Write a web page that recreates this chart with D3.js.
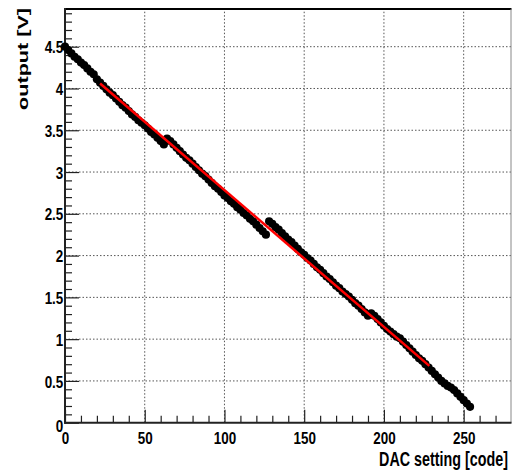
<!DOCTYPE html>
<html>
<head>
<meta charset="utf-8">
<script src="https://cdn.jsdelivr.net/npm/d3@7"></script>
<style>
  body { margin: 0; background: #fff; }
  text { font-family: "Liberation Sans", Arial, Helvetica, sans-serif; font-weight: bold; fill: #000; }
</style>
</head>
<body>
<svg id="chart" width="512" height="475"></svg>
<script>
// DAC scan, four 64-code segments, values every 2 codes
var segmentStarts = [0, 64, 128, 192];
var segment1 = [4.50, 4.46, 4.42, 4.38, 4.35, 4.31, 4.28, 4.24, 4.20, 4.17, 4.11, 4.07, 4.03, 3.99, 3.95, 3.92,
                3.88, 3.84, 3.80, 3.77, 3.73, 3.69, 3.66, 3.62, 3.59, 3.56, 3.52, 3.48, 3.45, 3.41, 3.37, 3.33];
var segment2 = [3.40, 3.37, 3.33, 3.29, 3.25, 3.21, 3.17, 3.14, 3.10, 3.06, 3.02, 2.98, 2.95, 2.91, 2.87, 2.83,
                2.80, 2.76, 2.72, 2.69, 2.65, 2.62, 2.58, 2.55, 2.51, 2.48, 2.44, 2.41, 2.37, 2.33, 2.29, 2.25];
var segment3 = [2.41, 2.38, 2.34, 2.31, 2.27, 2.23, 2.19, 2.16, 2.12, 2.08, 2.04, 2.01, 1.97, 1.94, 1.90, 1.86,
                1.83, 1.79, 1.75, 1.72, 1.68, 1.64, 1.61, 1.57, 1.54, 1.51, 1.47, 1.43, 1.40, 1.36, 1.32, 1.28];
var segment4 = [1.31, 1.28, 1.24, 1.20, 1.16, 1.12, 1.09, 1.06, 1.03, 1.01, 0.97, 0.93, 0.89, 0.85, 0.81, 0.77,
                0.74, 0.70, 0.66, 0.62, 0.58, 0.54, 0.50, 0.47, 0.44, 0.42, 0.39, 0.35, 0.31, 0.27, 0.23, 0.19];

// linear fit (red)
var fitCodes = [22, 228.5];
var fitValues = [4.06, 0.68];

var xMajor = [0, 50, 100, 150, 200, 250];
var yMajor = [0, 0.5, 1, 1.5, 2, 2.5, 3, 3.5, 4, 4.5];
var yTickLabels = ['0', '0.5', '1', '1.5', '2', '2.5', '3', '3.5', '4', '4.5'];
var xTitle = 'DAC setting [code]';
var yTitle = 'output [V]';

var svg = d3.select('#chart');
var x = d3.scaleLinear().domain([0, 280]).range([65, 511.5]);
var y = d3.scaleLinear().domain([0, 4.95]).range([422.7, 9.1]);

var xMinor = d3.range(0, 28).map(function(i) { return i * 10; })
  .filter(function(d) { return d % 50 !== 0; });
var yMinor = d3.range(0, 50).map(function(i) { return i / 10; })
  .filter(function(d) { return Math.round(d * 10) % 5 !== 0; });

svg.append('rect').attr('width', 512).attr('height', 475).attr('fill', '#fff');

// grid
var grid = svg.append('g')
  .attr('stroke', '#555')
  .attr('stroke-width', 1)
  .attr('stroke-dasharray', '1.5,2');
grid.selectAll('.vgrid').data(xMajor.slice(1)).join('line')
  .attr('class', 'vgrid')
  .attr('x1', function(d) { return x(d); })
  .attr('x2', function(d) { return x(d); })
  .attr('y1', y(0))
  .attr('y2', y.range()[1]);
grid.selectAll('.hgrid').data(yMajor.slice(1)).join('line')
  .attr('class', 'hgrid')
  .attr('x1', x(0))
  .attr('x2', x.range()[1])
  .attr('y1', function(d) { return y(d); })
  .attr('y2', function(d) { return y(d); });

function styleTicks(g) {
  g.select('.domain').remove();
  g.selectAll('.tick line').attr('stroke', '#222').attr('stroke-width', 1.2);
}

// x axis
var xAxisG = svg.append('g').attr('transform', 'translate(0,' + y(0) + ')');
xAxisG.append('g')
  .call(d3.axisBottom(x).tickValues(xMinor).tickSize(-7).tickFormat(''))
  .call(styleTicks);
xAxisG.append('g')
  .call(d3.axisBottom(x).tickValues(xMajor).tickSize(-13).tickPadding(9.5).tickFormat(d3.format('d')))
  .call(styleTicks)
  .attr('font-size', 16)
  .selectAll('text')
  .attr('transform', 'scale(0.84,1)');

// y axis
var yAxisG = svg.append('g').attr('transform', 'translate(' + x(0) + ',0)');
yAxisG.append('g')
  .call(d3.axisLeft(y).tickValues(yMinor).tickSize(-7).tickFormat(''))
  .call(styleTicks);
yAxisG.append('g')
  .call(d3.axisLeft(y).tickValues(yMajor).tickSize(-14).tickPadding(2)
    .tickFormat(function(d, i) { return yTickLabels[i]; }))
  .call(styleTicks)
  .attr('font-size', 16)
  .selectAll('text')
  .attr('dy', function(d) { return d === 0 ? '0.52em' : '0.38em'; })
  .attr('transform', 'scale(0.84,1)');

// frame
var frame = svg.append('g');
frame.append('line').attr('x1', x(0)).attr('x2', x.range()[1]).attr('y1', y.range()[1]).attr('y2', y.range()[1])
  .attr('stroke', '#000').attr('stroke-width', 2);
frame.append('line').attr('x1', x.range()[1] - 0.5).attr('x2', x.range()[1] - 0.5).attr('y1', y.range()[1]).attr('y2', y(0))
  .attr('stroke', '#888').attr('stroke-width', 1);
frame.append('line').attr('x1', x(0)).attr('x2', x(0)).attr('y1', y.range()[1] - 1).attr('y2', y(0) + 1)
  .attr('stroke', '#222').attr('stroke-width', 2);
frame.append('line').attr('x1', x(0) - 1).attr('x2', x.range()[1]).attr('y1', y(0)).attr('y2', y(0))
  .attr('stroke', '#222').attr('stroke-width', 2);

// data points
var points = [];
[segment1, segment2, segment3, segment4].forEach(function(seg, s) {
  seg.forEach(function(v, i) {
    points.push({ code: segmentStarts[s] + 2 * i, v: v });
  });
});

svg.append('g').selectAll('circle').data(points).join('circle')
  .attr('cx', function(d) { return x(d.code); })
  .attr('cy', function(d) { return y(d.v); })
  .attr('r', 4.1)
  .attr('fill', '#000');

// fit line
var fitLine = d3.line()
  .x(function(d) { return x(d[0]); })
  .y(function(d) { return y(d[1]); });
svg.append('path')
  .datum(d3.zip(fitCodes, fitValues))
  .attr('d', fitLine)
  .attr('fill', 'none')
  .attr('stroke', '#ff0000')
  .attr('stroke-width', 2.5);

// axis titles: squeeze / stretch along the text to the width seen in the plot
function fitTitle(sel, place, length) {
  var natural = sel.node().getComputedTextLength();
  sel.attr('transform', place + ' scale(' + (length / natural) + ',1)');
}

var xt = svg.append('text')
  .attr('text-anchor', 'end')
  .attr('font-size', 21)
  .text(xTitle);
fitTitle(xt, 'translate(508,466)', 129);

var yt = svg.append('text')
  .attr('text-anchor', 'end')
  .attr('font-size', 15)
  .text(yTitle);
fitTitle(yt, 'translate(28,8) rotate(-90)', 102);
</script>
</body>
</html>
